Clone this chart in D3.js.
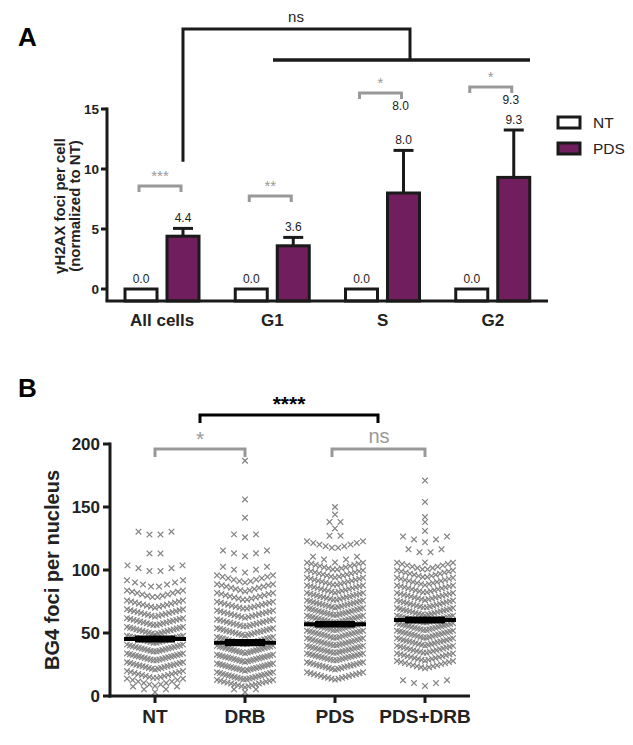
<!DOCTYPE html>
<html><head><meta charset="utf-8">
<script src="https://cdn.jsdelivr.net/npm/d3@7"></script>
<style>body{margin:0;background:#fff;} text{font-family:"Liberation Sans",Arial,Helvetica,sans-serif;}</style>
</head><body><svg id="c" width="633" height="745"></svg>
<script>
// ---------- Panel A data ----------
const groupsA = ["All cells", "G1", "S", "G2"];
const seriesA = ["NT", "PDS"];
const ntValues = [0.0, 0.0, 0.0, 0.0];
const pdsValues = [4.4, 3.6, 8.0, 9.3];
const pdsSem = [0.65, 0.7, 3.55, 3.95];
const sigA = ["***", "**", "*", "*"];
const yTicksA = [0, 5, 10, 15];
const yLabelA = ["\u03b3H2AX foci per cell", "(normalized to NT)"];

// ---------- Panel B data ----------
const groupsB = ["NT", "DRB", "PDS", "PDS+DRB"];
const meansB = [45.2, 42.3, 56.9, 60.3];
const semB = [1.6, 1.7, 1.4, 1.6];
const yTicksB = [0, 50, 100, 150, 200];
// [row value, number of points in row]
const ntBins = [[127,4],[112,2],[98,6],[86,8],[78,12],[70,15],[63,17],[56,18],[49,19],[42,20],[35,20],[28,20],[21,19],[14,16],[8,11],[3,5]];
const drbBins = [[186.7,1],[156,1],[141.5,1],[126,3],[111,5],[98,5],[90,11],[83,13],[76,14],[69,16],[62,17],[55,18],[48,19],[41,20],[34,21],[27,21],[20,21],[13,20],[7,17],[3,3]];
const pdsBins = [[150,1],[144,1],[137,2],[133,1],[126,2],[117,10],[106,5],[100,14],[94,15],[88,16],[82,17],[76,18],[70,19],[64,20],[58,20],[52,20],[46,20],[40,20],[34,20],[28,20],[21,19],[13,17]];
const pdsDrbBins = [[171,1],[154,1],[142,1],[138,1],[131,1],[122,5],[113,4],[106,1],[100,12],[94,14],[88,15],[82,16],[76,17],[70,18],[64,19],[58,20],[52,20],[46,20],[40,19],[34,18],[28,17],[22,15],[8,5]];
const binsB = [ntBins, drbBins, pdsBins, pdsDrbBins];

const svg = d3.select("#c");
svg.append("rect").attr("width",633).attr("height",745).attr("fill","#fff");
const PURPLE = "#701e5e", GRAY = "#999", DARK = "#1a1a1a";

// ================= Panel A =================
svg.append("text").attr("x",18).attr("y",46).attr("font-size",26).attr("font-weight","bold").text("A");

const xA = d3.scaleBand().domain(groupsA).range([107,548]);
const xs = d3.scaleBand().domain(seriesA).range([18,92]).paddingInner(0.238);
const yA = d3.scaleLinear().domain([-1,15]).range([301,109]);
const gA = svg.append("g");

groupsA.forEach((g,i) => {
  const gx = xA(g);
  const vals = [ntValues[i], pdsValues[i]];
  seriesA.forEach((s,j) => {
    const x0 = gx + xs(s), w = xs.bandwidth();
    const v = vals[j];
    gA.append("rect").attr("x",x0).attr("y",yA(v)).attr("width",w).attr("height",yA(-1)-yA(v))
      .attr("fill", j===0 ? "#fff" : PURPLE).attr("stroke",DARK).attr("stroke-width",3);
    const cx = x0 + w/2;
    if (j===1) {
      const top = v + pdsSem[i];
      gA.append("line").attr("x1",cx).attr("x2",cx).attr("y1",yA(v)).attr("y2",yA(top)).attr("stroke",DARK).attr("stroke-width",3);
      gA.append("line").attr("x1",cx-10).attr("x2",cx+10).attr("y1",yA(top)).attr("y2",yA(top)).attr("stroke",DARK).attr("stroke-width",3);
      gA.append("text").attr("x",cx).attr("y",yA(top)-6).attr("text-anchor","middle").attr("font-size",12).attr("fill","#222").text(d3.format(".1f")(v));
    } else {
      gA.append("text").attr("x",cx).attr("y",yA(v)-6).attr("text-anchor","middle").attr("font-size",12).attr("fill","#222").text(d3.format(".1f")(v));
    }
  });
  const l = gx + xs("NT") + xs.bandwidth()/2 - 2, r = gx + xs("PDS") + xs.bandwidth()/2 - 2;
  const by = [186, 196, 93, 87][i];
  gA.append("path").attr("d",`M${l},${by+6}V${by}H${r}V${by+6}`).attr("fill","none").attr("stroke",GRAY).attr("stroke-width",3);
  gA.append("text").attr("x",(l+r)/2).attr("y",by-5).attr("text-anchor","middle").attr("font-size",15).attr("fill",GRAY).text(sigA[i]);
});
[["S",8.0,110],["G2",9.3,104]].forEach(([g,v,yy]) => {
  gA.append("text").attr("x",xA(g)+xs("PDS")+xs.bandwidth()/2-3).attr("y",yy).attr("text-anchor","middle").attr("font-size",12).attr("fill","#222").text(d3.format(".1f")(v));
});

gA.append("line").attr("x1",107).attr("x2",107).attr("y1",yA(15)-1.5).attr("y2",yA(-1)).attr("stroke",DARK).attr("stroke-width",3);
gA.append("line").attr("x1",105.5).attr("x2",548).attr("y1",yA(-1)).attr("y2",yA(-1)).attr("stroke",DARK).attr("stroke-width",3);
yTicksA.forEach(t => {
  gA.append("line").attr("x1",101).attr("x2",107).attr("y1",yA(t)).attr("y2",yA(t)).attr("stroke",DARK).attr("stroke-width",3);
  gA.append("text").attr("x",99).attr("y",yA(t)+5).attr("text-anchor","end").attr("font-size",13.5).attr("font-weight","bold").attr("fill","#222").text(t);
});
groupsA.forEach(g => {
  gA.append("text").attr("x",xA(g)+xA.bandwidth()/2).attr("y",326).attr("text-anchor","middle").attr("font-size",17).attr("font-weight","bold").attr("fill","#222").text(g);
});
yLabelA.forEach((t,k) => {
  gA.append("text").attr("transform",`translate(${65+k*15},206) rotate(-90)`).attr("text-anchor","middle").attr("font-size",15).attr("font-weight","bold").attr("fill","#222").text(t);
});
const allPdsX = xA("All cells") + xs("PDS") + xs.bandwidth()/2;
gA.append("path").attr("d",`M${allPdsX},${yA(10.6)}V29H410V60`).attr("fill","none").attr("stroke",DARK).attr("stroke-width",3);
gA.append("line").attr("x1",273).attr("x2",530).attr("y1",60).attr("y2",60).attr("stroke",DARK).attr("stroke-width",3.5);
gA.append("text").attr("x",296).attr("y",22).attr("text-anchor","middle").attr("font-size",15).attr("fill","#222").text("ns");
seriesA.forEach((s,j) => {
  gA.append("rect").attr("x",558).attr("y",117+j*26).attr("width",22).attr("height",11)
    .attr("fill", j===0 ? "#fff" : PURPLE).attr("stroke",DARK).attr("stroke-width",3);
  gA.append("text").attr("x",593).attr("y",128+j*26).attr("font-size",15.5).attr("fill","#222").text(s);
});

// ================= Panel B =================
svg.append("text").attr("x",18).attr("y",397).attr("font-size",26).attr("font-weight","bold").text("B");
const xB = d3.scaleBand().domain(groupsB).range([110,470]);
const yB = d3.scaleLinear().domain([0,200]).range([696,444]);
const gB = svg.append("g");
const mk = "M-2.8,-2.8L2.8,2.8M-2.8,2.8L2.8,-2.8";

groupsB.forEach((g,i) => {
  const cx = xB(g) + xB.bandwidth()/2;
  binsB[i].forEach(([v,n]) => {
    const sp = n>1 ? Math.min(11, 56/(n-1)) : 0;
    for (let k=0;k<n;k++) {
      const dx = (k-(n-1)/2)*sp;
      gB.append("path").attr("d",mk)
        .attr("transform",`translate(${cx+dx},${yB(v)-0.26*Math.abs(dx)})`)
        .attr("stroke","#858585").attr("stroke-width",1.25).attr("fill","none");
    }
  });
});
groupsB.forEach((g,i) => {
  const cx = xB(g) + xB.bandwidth()/2;
  const m = meansB[i], s = semB[i];
  gB.append("line").attr("x1",cx-31).attr("x2",cx+31).attr("y1",yB(m)).attr("y2",yB(m)).attr("stroke","#000").attr("stroke-width",4);
  [m-s, m+s].forEach(v => gB.append("line").attr("x1",cx-20).attr("x2",cx+20).attr("y1",yB(v)).attr("y2",yB(v)).attr("stroke","#000").attr("stroke-width",3));
  gB.append("rect").attr("x",cx-20).attr("y",yB(m+s)).attr("width",40).attr("height",yB(m-s)-yB(m+s)).attr("fill","#000");
});
gB.append("line").attr("x1",110).attr("x2",110).attr("y1",yB(200)-1.5).attr("y2",yB(0)+1.5).attr("stroke",DARK).attr("stroke-width",3);
gB.append("line").attr("x1",108.5).attr("x2",470).attr("y1",yB(0)).attr("y2",yB(0)).attr("stroke",DARK).attr("stroke-width",3);
yTicksB.forEach(t => {
  gB.append("line").attr("x1",103).attr("x2",110).attr("y1",yB(t)).attr("y2",yB(t)).attr("stroke",DARK).attr("stroke-width",3);
  gB.append("text").attr("x",100).attr("y",yB(t)+6).attr("text-anchor","end").attr("font-size",17).attr("font-weight","bold").attr("fill","#222").text(t);
});
groupsB.forEach(g => {
  const cx = xB(g) + xB.bandwidth()/2;
  gB.append("line").attr("x1",cx).attr("x2",cx).attr("y1",yB(0)).attr("y2",yB(0)+7).attr("stroke",DARK).attr("stroke-width",3);
  gB.append("text").attr("x",cx).attr("y",723).attr("text-anchor","middle").attr("font-size",19).attr("font-weight","bold").attr("fill","#222").text(g);
});
gB.append("text").attr("transform","translate(59,570) rotate(-90)").attr("text-anchor","middle").attr("font-size",20).attr("font-weight","bold").attr("fill","#222").text("BG4 foci per nucleus");
const cB = g => xB(g) + xB.bandwidth()/2;
const l1 = (cB("NT")+cB("DRB"))/2, r1 = (cB("PDS")+cB("PDS+DRB"))/2 - 2;
gB.append("path").attr("d",`M${l1},${423}V415H${r1}V423`).attr("fill","none").attr("stroke","#000").attr("stroke-width",3);
gB.append("text").attr("x",(l1+r1)/2).attr("y",411).attr("text-anchor","middle").attr("font-size",21).attr("font-weight","bold").attr("fill","#000").text("****");
gB.append("path").attr("d",`M${cB("NT")},457V449H${cB("DRB")}V457`).attr("fill","none").attr("stroke",GRAY).attr("stroke-width",3);
gB.append("text").attr("x",(cB("NT")+cB("DRB"))/2).attr("y",446).attr("text-anchor","middle").attr("font-size",21).attr("fill",GRAY).text("*");
gB.append("path").attr("d",`M${cB("PDS")-3},457V449H${cB("PDS+DRB")}V457`).attr("fill","none").attr("stroke",GRAY).attr("stroke-width",3);
gB.append("text").attr("x",(cB("PDS")+cB("PDS+DRB"))/2-1).attr("y",443).attr("text-anchor","middle").attr("font-size",20).attr("fill",GRAY).text("ns");
</script></body></html>
